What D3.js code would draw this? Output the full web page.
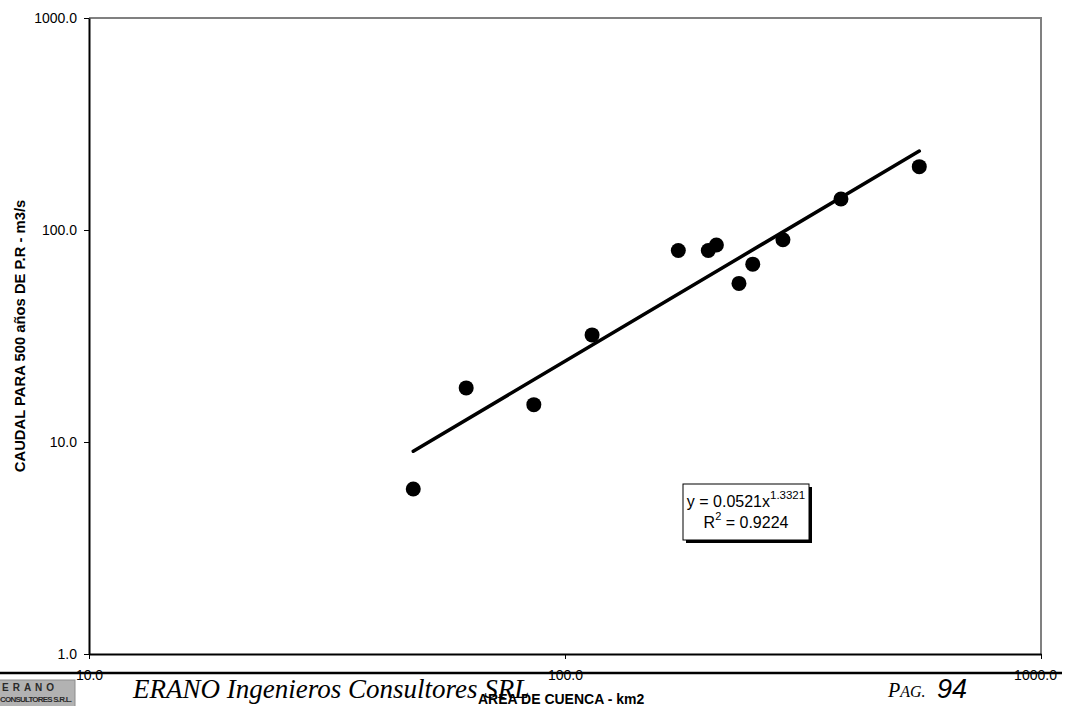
<!DOCTYPE html>
<html>
<head>
<meta charset="utf-8">
<script src="https://cdn.jsdelivr.net/npm/d3@7"></script>
<style>
  body { margin: 0; background: #fff; }
  svg { display: block; font-family: "Liberation Sans", Arial, sans-serif; }
</style>
</head>
<body>
<div class="container"></div>
<script>
const areas = [48, 62, 86, 114, 173, 200, 208, 232, 248, 287, 380, 555]
const caudales = [6, 18, 15, 32, 80, 80, 85, 56, 69, 90, 140, 199]
const xTicks = [10, 100, 1000]
const yTicks = [1, 10, 100, 1000]
const coefA = 0.0521
const coefB = 1.3321
const r2 = 0.9224

const width = 1068
const height = 706

const xScale = d3.scaleLog()
  .domain([10, 1000])
  .range([89, 1041])

const yScale = d3.scaleLog()
  .domain([1, 1000])
  .range([654, 18])

const svg = d3.select(".container")
  .append("svg")
    .attr("width", width)
    .attr("height", height)

// marco gris arriba y a la derecha
svg.append("path")
  .attr("d", `M${xScale(10)},${yScale(1000)}H${xScale(1000)}V${yScale(1)}`)
  .attr("fill", "none")
  .attr("stroke", "#808080")
  .attr("stroke-width", 2)

const yAxis = d3.axisLeft(yScale)
  .tickValues(yTicks)
  .tickFormat(d3.format(".1f"))
  .tickSize(5)
  .tickSizeOuter(0)
  .tickPadding(7)

const xAxis = d3.axisBottom(xScale)
  .tickValues(xTicks)
  .tickFormat(d3.format(".1f"))
  .tickSize(5)
  .tickSizeOuter(0)
  .tickPadding(11)

const gx = svg.append("g")
  .attr("transform", `translate(0, ${yScale(1)})`)
  .call(xAxis)

const gy = svg.append("g")
  .attr("transform", `translate(${xScale(10)}, 0)`)
  .call(yAxis)

for (const g of [gx, gy]) {
  g.select(".domain").attr("stroke", "#000").attr("stroke-width", 2)
  g.selectAll(".tick line").attr("stroke", "#000")
  g.selectAll(".tick text")
    .attr("fill", "#000")
    .style("font-size", "14px")
    .style("font-family", "'Liberation Sans', Arial, sans-serif")
}
gx.selectAll(".tick text").filter(d => d === 1000).attr("dx", -6)

// linea de tendencia potencial
const xExt = d3.extent(areas)
svg.append("path")
  .datum(xExt.map(x => [x, coefA * Math.pow(x, coefB)]))
  .attr("d", d3.line().x(d => xScale(d[0])).y(d => yScale(d[1])))
  .attr("fill", "none")
  .attr("stroke", "#000")
  .attr("stroke-width", 3.5)
  .attr("stroke-linecap", "round")

svg.selectAll("circle.punto")
  .data(areas)
  .enter()
  .append("circle")
  .attr("class", "punto")
  .attr("cx", d => xScale(d))
  .attr("cy", (d, i) => yScale(caudales[i]))
  .attr("r", 7.5)
  .attr("fill", "#000")

// caja de la ecuacion
const box = svg.append("g").attr("transform", "translate(683, 484)")
box.append("rect")
  .attr("x", 3).attr("y", 3)
  .attr("width", 126).attr("height", 56)
  .attr("fill", "#000")
box.append("rect")
  .attr("width", 126).attr("height", 56)
  .attr("fill", "#fff")
  .attr("stroke", "#000")
  .attr("stroke-width", 1)

const eq1 = box.append("text")
  .attr("x", 63).attr("y", 22.5)
  .attr("text-anchor", "middle")
  .style("font-size", "16px")
eq1.append("tspan").text(`y = ${coefA}x`)
eq1.append("tspan").attr("dy", -8).style("font-size", "11.5px").text(coefB)

const eq2 = box.append("text")
  .attr("x", 63).attr("y", 44)
  .attr("text-anchor", "middle")
  .style("font-size", "16px")
eq2.append("tspan").text("R")
eq2.append("tspan").attr("dy", -8).style("font-size", "11px").text("2")
eq2.append("tspan").attr("dy", 8).text(` = ${r2}`)

// titulos de ejes
svg.append("text")
  .attr("transform", `translate(25, ${(yScale(1) + yScale(1000)) / 2}) rotate(-90)`)
  .attr("text-anchor", "middle")
  .style("font-size", "14.8px")
  .style("font-weight", "bold")
  .text("CAUDAL PARA 500 años DE P.R - m3/s")

// pie de pagina
svg.append("rect")
  .attr("x", -4).attr("y", 680)
  .attr("width", 79).attr("height", 30)
  .attr("fill", "#b2b2b2")
  .attr("stroke", "#8c8c8c")
svg.append("text")
  .attr("x", 2).attr("y", 691)
  .attr("fill", "#2a2a2a")
  .style("font-size", "10px")
  .style("font-weight", "bold")
  .style("letter-spacing", "4px")
  .text("ERANO")
svg.append("text")
  .attr("x", 0).attr("y", 702)
  .attr("fill", "#2a2a2a")
  .attr("textLength", 72)
  .style("font-size", "8px")
  .style("font-weight", "bold")
  .text("CONSULTORES S.R.L.")

svg.append("text")
  .attr("x", 133).attr("y", 698)
  .style("font-family", "'Liberation Serif', 'Times New Roman', serif")
  .style("font-style", "italic")
  .style("font-size", "27px")
  .text("ERANO Ingenieros Consultores SRL")

const pag = svg.append("text")
  .attr("x", 888).attr("y", 697)
  .style("font-family", "'Liberation Serif', 'Times New Roman', serif")
  .style("font-style", "italic")
  .style("font-size", "20px")
pag.append("tspan").text("P")
pag.append("tspan").style("font-size", "16px").text("AG.")
svg.append("text")
  .attr("x", 937).attr("y", 698)
  .style("font-style", "italic")
  .style("font-size", "27px")
  .text("94")

svg.append("line")
  .attr("x1", 0).attr("x2", 1062)
  .attr("y1", 673).attr("y2", 673)
  .attr("stroke", "#000")
  .attr("stroke-width", 2.5)

svg.append("text")
  .attr("x", 478).attr("y", 704)
  .style("font-size", "14px")
  .style("font-weight", "bold")
  .text("AREA DE CUENCA - km2")
</script>
</body>
</html>
